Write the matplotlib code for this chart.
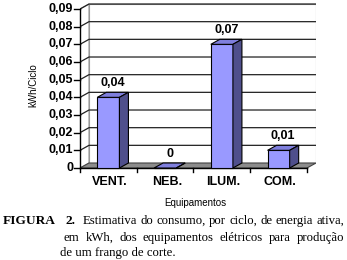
"""Excel-style 3D bar chart: energy use per cycle by equipment."""

import matplotlib

matplotlib.use("Agg")
from matplotlib import pyplot as plt
from matplotlib.patches import Polygon

categories = ["VENT.", "NEB.", "ILUM.", "COM."]
values = [0.04, 0.0, 0.07, 0.01]
value_labels = ["0,04", "0", "0,07", "0,01"]
y_ticks = [0.0, 0.01, 0.02, 0.03, 0.04, 0.05, 0.06, 0.07, 0.08, 0.09]
y_tick_labels = ["0", "0,01", "0,02", "0,03", "0,04", "0,05", "0,06", "0,07", "0,08", "0,09"]
caption_lines = [
    "Estimativa do consumo, por ciclo, de energia ativa,",
    "em kWh, dos equipamentos elétricos para produção",
    "de um frango de corte.",
]

W, H = 347, 260
DX, DY = 0.1586, 0.00283  # depth offset in data units
BAR_W = 0.39
FRONT = "#9999ff"
TOP = "#7f7fdd"
SIDE = "#4f4f8c"
SANS = "Liberation Sans"
SERIF = "Liberation Serif"

fig = plt.figure(figsize=(W / 100, H / 100), dpi=100)
fig.patch.set_facecolor("white")
ax = fig.add_axes([80 / W, (H - 172) / H, 236 / W, 169 / H])
ax.set_xlim(-0.5, 3.659)
ax.set_ylim(-0.00226, 0.0934)
ax.axis("off")

x0, x1 = -0.5, len(categories) - 0.5
ytop = y_ticks[-1]

# walls and floor
ax.add_patch(Polygon([(x0, 0), (x0 + DX, DY), (x0 + DX, ytop + DY), (x0, ytop)],
                     closed=True, facecolor="white", edgecolor="#999999", lw=0.8))
ax.add_patch(Polygon([(x0 + DX, DY), (x1 + DX, DY), (x1 + DX, ytop + DY), (x0 + DX, ytop + DY)],
                     closed=True, facecolor="white", edgecolor="#999999", lw=0.8))
ax.add_patch(Polygon([(x0, 0), (x1, 0), (x1 + DX, DY), (x0 + DX, DY)],
                     closed=True, facecolor="#8c8c8c", edgecolor="#444444", lw=0.8))

for v in y_ticks[1:]:
    ax.plot([x0, x0 + DX, x1 + DX], [v, v + DY, v + DY], color="#222222", lw=0.9)

# axis lines and ticks
ax.plot([x0, x0], [0, ytop], color="black", lw=1, clip_on=False)
ax.plot([x0, x1], [0, 0], color="black", lw=1, clip_on=False)
for v, lab in zip(y_ticks, y_tick_labels):
    ax.plot([x0 - 0.1, x0], [v, v], color="black", lw=1, clip_on=False)
    ax.text(x0 - 0.12, v, lab, ha="right", va="center", fontsize=9,
            fontweight="bold", family=SANS)
for b in range(len(categories) + 1):
    ax.plot([x0 + b, x0 + b], [0, -0.0022], color="black", lw=1, clip_on=False)

# bars
for i, (v, lab) in enumerate(zip(values, value_labels)):
    left, right = i - BAR_W / 2, i + BAR_W / 2
    ax.bar(i, v, width=BAR_W, color=FRONT, edgecolor="black", lw=0.8, zorder=3)
    ax.add_patch(Polygon([(left, v), (right, v), (right + DX, v + DY), (left + DX, v + DY)],
                         closed=True, facecolor=TOP, edgecolor="black", lw=0.8, zorder=3))
    ax.add_patch(Polygon([(right, 0), (right + DX, DY), (right + DX, v + DY), (right, v)],
                         closed=True, facecolor=SIDE, edgecolor="black", lw=0.8, zorder=3))
    ax.text(i + DX / 2, v + DY + 0.0018, lab, ha="center", va="bottom", fontsize=9,
            fontweight="bold", family=SANS, zorder=4)
    ax.text(i + 0.03, -0.0077, categories[i], ha="center", va="center", fontsize=9,
            fontweight="bold", family=SANS, clip_on=False)

fig.text(33 / W, 1 - 85 / H, "kWh/Ciclo", rotation=90, ha="center", va="center",
         fontsize=7, family=SANS)
fig.text(195 / W, 1 - 203 / H, "Equipamentos", ha="center", va="center",
         fontsize=7, family=SANS)


def justify(words, x_start, x_end, y_px, **kw):
    """Place words so they span x_start..x_end pixels, like justified text."""
    renderer = fig.canvas.get_renderer()
    texts = [fig.text(0, 1 - y_px / H, w, ha="left", va="center", **kw) for w in words]
    widths = [t.get_window_extent(renderer).width for t in texts]
    gap = (x_end - x_start - sum(widths)) / max(len(words) - 1, 1)
    x = x_start
    for t, w in zip(texts, widths):
        t.set_x(x / W)
        x += w + gap


caption_y = [221, 238, 253]
justify(["FIGURA", "2."], 3, 76, caption_y[0], fontsize=9.6, fontweight="bold", family=SERIF)
justify(caption_lines[0].split(), 83, 344, caption_y[0], fontsize=9.2, family=SERIF)
justify(caption_lines[1].split(), 64, 344, caption_y[1], fontsize=9.2, family=SERIF)
fig.text(60 / W, 1 - caption_y[2] / H, caption_lines[2], ha="left", va="center",
         fontsize=9.2, family=SERIF)

fig.savefig("out.png", dpi=100)
